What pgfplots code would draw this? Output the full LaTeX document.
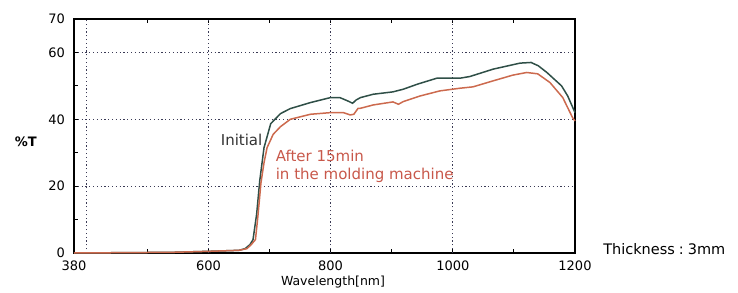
\documentclass[border=0pt]{standalone}
\usepackage{pgfplots}
\pgfplotsset{compat=1.18}
\usepackage{fontspec}
\setmainfont{DejaVu Sans}
\definecolor{initc}{HTML}{2F4F47}
\definecolor{afterc}{HTML}{CC6A4E}
\definecolor{annred}{HTML}{C8584A}
\definecolor{gridc}{HTML}{3A3A55}
\begin{document}
\begin{tikzpicture}
\begin{axis}[
  at={(0pt,0pt)}, anchor=south west,
  scale only axis, width=501pt, height=234pt,
  xmin=380, xmax=1200, ymin=0, ymax=70,
  axis line style={line width=1.4pt, black},
  xtick={380,600,800,1000,1200},
  minor xtick={500,700,900,1100},
  ytick={0,20,40,60,70},
  minor ytick={10,30,50},
  xtick pos=both, ytick pos=left,
  tick align=inside,
  major tick length=4pt, minor tick length=4pt,
  every tick/.style={black, line width=0.8pt},
  ymajorgrids,
  grid style={gridc, line width=0.9pt, dash pattern=on 1.2pt off 2.6pt},
  extra x ticks={400,600,800,1000},
  extra x tick labels={},
  extra x tick style={grid=major, major tick length=0pt},
  /pgf/number format/assume math mode=true,
  /pgf/number format/1000 sep={},
  tick label style={font=\fontsize{13}{13}\selectfont},
  xticklabel style={inner sep=0pt, yshift=-7.5pt},
  yticklabel style={inner sep=0pt, xshift=-9pt},
  clip=false,
]
\addplot[initc, line width=1.5pt] coordinates {
(380,0) (540,0.2) (600,0.5) (650,0.8) (660,1.3) (668,2.5) (673,4) (679,11.7) (684,21.6) (691,31.5) (702,38.7) (718,41.7) (734,43.2) (767,45) (800,46.5) (815,46.5) (828,45.5) (836,44.8) (842,45.8) (849,46.5) (870,47.5) (902,48.2) (919,49) (942,50.5) (974,52.3) (1012,52.3) (1028,52.8) (1066,55) (1110,56.8) (1128,57) (1140,56) (1154,54) (1178,50) (1188,47) (1200,42)
};
\addplot[afterc, line width=1.5pt] coordinates {
(380,0) (540,0.2) (600,0.5) (650,0.8) (663,1.3) (670,2.5) (677,4) (681,11) (686,21) (691,27) (696,31.5) (706,35.5) (718,37.8) (734,40) (767,41.5) (800,42) (821,42) (832,41.3) (838,41.5) (845,43.3) (849,43.3) (870,44.3) (902,45.2) (911,44.5) (919,45.3) (947,47) (979,48.5) (1012,49.3) (1033,49.7) (1066,51.5) (1098,53.2) (1121,54) (1139,53.6) (1159,51) (1180,46.5) (1196,40.5) (1200,39.5)
};
\node[anchor=base west, inner sep=0pt, text=black!80, font=\fontsize{15}{15}\selectfont] at (axis cs:620,32.1) {Initial};
\node[anchor=base west, inner sep=0pt, text=annred, font=\fontsize{15}{15}\selectfont] at (axis cs:710,27.4) {After 15min};
\node[anchor=base west, inner sep=0pt, text=annred, font=\fontsize{15}{15}\selectfont] at (axis cs:710,21.9) {in the molding machine};
\node[inner sep=0pt, font=\fontsize{13}{13}\selectfont\bfseries] at (axis description cs:-0.096,0.474) {\%T};
\node[anchor=base, inner sep=0pt, font=\fontsize{12.5}{12.5}\selectfont] at (axis description cs:0.517,-0.137) {Wavelength[nm]};
\node[anchor=base west, inner sep=0pt, font=\fontsize{14.5}{14.5}\selectfont] at (axis description cs:1.056,-0.0085) {Thickness\hspace{4pt}:\hspace{4pt}3mm};
\end{axis}
\pgfresetboundingbox
\useasboundingbox (-74pt,-39pt) rectangle (664pt,253pt);
\end{tikzpicture}
\end{document}
